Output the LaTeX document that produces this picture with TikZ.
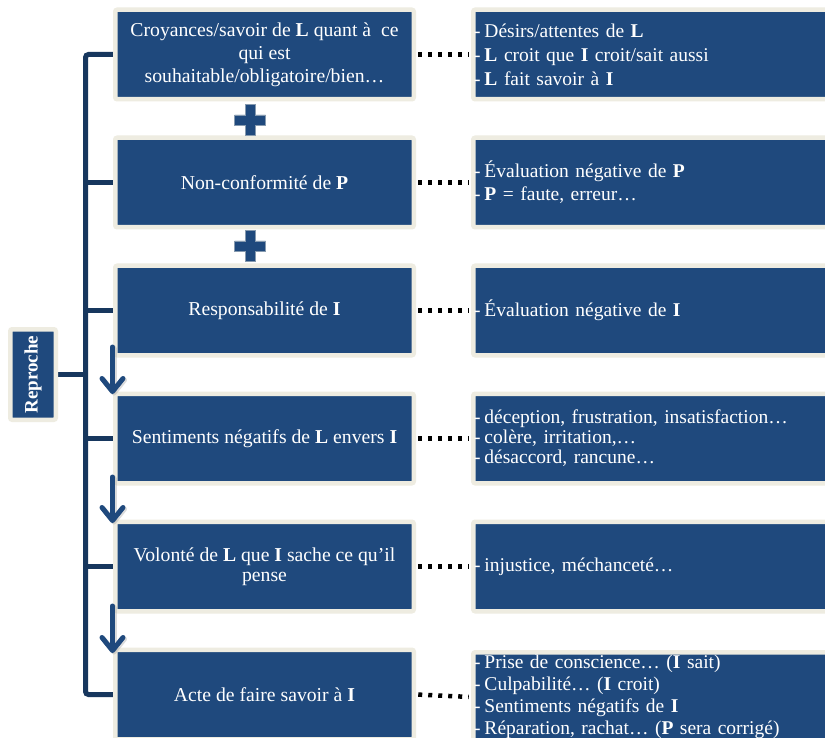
\documentclass[tikz,border=0pt]{standalone}
\usepackage{fontspec}
\setmainfont{Liberation Serif}
\usetikzlibrary{arrows.meta,backgrounds}
\definecolor{boxblue}{RGB}{31,73,125}
\definecolor{cream}{RGB}{238,236,225}
\definecolor{navy}{RGB}{23,55,94}
\newcommand\mL{\textbf{L}}
\newcommand\mI{\textbf{I}}
\newcommand\mP{\textbf{P}}
\newcommand\dsh{-\hspace{4pt}}
\begin{document}
\begin{tikzpicture}[x=1pt,y=-1pt,
  box/.style={draw=cream, line width=4.5pt, fill=boxblue, rounded corners=2pt, text=white, inner sep=0pt},
  leftbox/.style={box, minimum width=298.5pt, minimum height=89.5pt, align=center, font=\fontsize{19.7}{23}\selectfont},
  rightbox/.style={box, minimum width=386.75pt, minimum height=89.5pt, inner xsep=0.75pt, text width=385.25pt, align=left, font=\fontsize{19.5}{23}\selectfont},
  repbox/.style={box, rotate=90, minimum width=90.5pt, minimum height=45.5pt, font=\bfseries\fontsize{19}{20}\selectfont},
  bracket/.style={draw=navy, line width=5pt},
  dots/.style={draw=black, line width=4.5pt, dash pattern=on 4pt off 6pt, shorten <=2.25pt, shorten >=2.25pt},
  flow/.style={draw=boxblue, line width=5pt, line cap=round, -{Straight Barb[length=13pt,width=21pt,round]}},
  flowshadow/.style={draw=black!35, opacity=0.4, line width=5pt, line cap=round, -{Straight Barb[length=13pt,width=21pt,round]}},
  plussign/.pic={\filldraw[fill=boxblue, draw=cream!50!boxblue, line width=0.6pt]
     (-15.5,-5)--(-5,-5)--(-5,-15.5)--(5,-15.5)--(5,-5)--(15.5,-5)--(15.5,5)--(5,5)--(5,15.5)--(-5,15.5)--(-5,5)--(-15.5,5)--cycle;}
]
\useasboundingbox (0,0) rectangle (825,738);
\clip (0,0) rectangle (825,738);

% left column
\node[leftbox] (L1) at (264.5,54.5) {Croyances/savoir de \mL{} quant à~ ce\\ qui est\\ souhaitable/obligatoire/bien…};
\node[leftbox] (L2) at (264.5,182.5) {Non-conformité de \mP};
\node[leftbox] (L3) at (264.5,310.5) {Responsabilité de \mI};
\node[leftbox] (L4) at (264.5,438.5) {Sentiments négatifs de \mL{} envers \mI};
\node[leftbox, font=\fontsize{19.7}{20}\selectfont] (L5) at (264.5,566.5) {Volonté de \mL{} que \mI{} sache ce qu’il\\ pense};
\node[leftbox] (L6) at (264.5,694.5) {Acte de faire savoir à \mI};

% right column
\node[rightbox, font=\fontsize{19.5}{24}\selectfont] (R1) at (666.625,54.5) {\dsh Désirs/attentes de \mL\\ \dsh\mL{} croit que \mI{} croit/sait aussi\\ \dsh\mL{} fait savoir à \mI};
\node[rightbox] (R2) at (666.625,182.5) {\dsh Évaluation négative de \mP\\ \dsh\mP{} = faute, erreur…};
\node[rightbox] (R3) at (666.625,310.5) {\dsh Évaluation négative de \mI};
\node[rightbox, font=\fontsize{19.5}{20}\selectfont] (R4) at (666.625,438.5) {\dsh déception, frustration, insatisfaction…\\ \dsh colère, irritation,…\\ \dsh désaccord, rancune…};
\node[rightbox] (R5) at (666.625,566.5) {\dsh injustice, méchanceté…};
\node[rightbox, font=\fontsize{19.5}{22}\selectfont] (R6) at (666.625,697) {\dsh Prise de conscience… (\mI{} sait)\\ \dsh Culpabilité… (\mI{} croit)\\ \dsh Sentiments négatifs de \mI\\ \dsh Réparation, rachat… (\mP{} sera corrigé)};

% Reproche
\node[repbox] (rep) at (33,374.5) {Reproche};

% bracket
\coordinate (bx) at (85.5,0);
\begin{scope}[on background layer]
  \fill[white] (0,0) rectangle (825,738);
  \draw[bracket, rounded corners=3pt] (L1.west) -- (L1.west -| bx) -- (L6.west -| bx) -- (L6.west);
  \foreach \k in {2,3,4,5} \draw[bracket] (L\k.west -| bx) -- (L\k.west);
  \draw[bracket] (rep.center) -- (rep.center -| bx);
\end{scope}

% dotted connectors
\foreach \k in {1,...,6} \draw[dots] (L\k.east) -- (R\k.west);

% plus signs
\pic at (250,120) {plussign};
\pic at (250,246) {plussign};

% arrows
\coordinate (a1s) at (112.5,347); \coordinate (a1e) at (112.5,394);
\coordinate (a2s) at (112.5,477); \coordinate (a2e) at (112.5,523);
\coordinate (a3s) at (112.5,606); \coordinate (a3e) at (112.5,653);
\foreach \k in {1,2,3} {
  \draw[flowshadow] ([shift={(1.5,1.5)}]a\k s) -- ([shift={(1.5,1.5)}]a\k e);
  \draw[flow] (a\k s) -- (a\k e);
}
\end{tikzpicture}
\end{document}
